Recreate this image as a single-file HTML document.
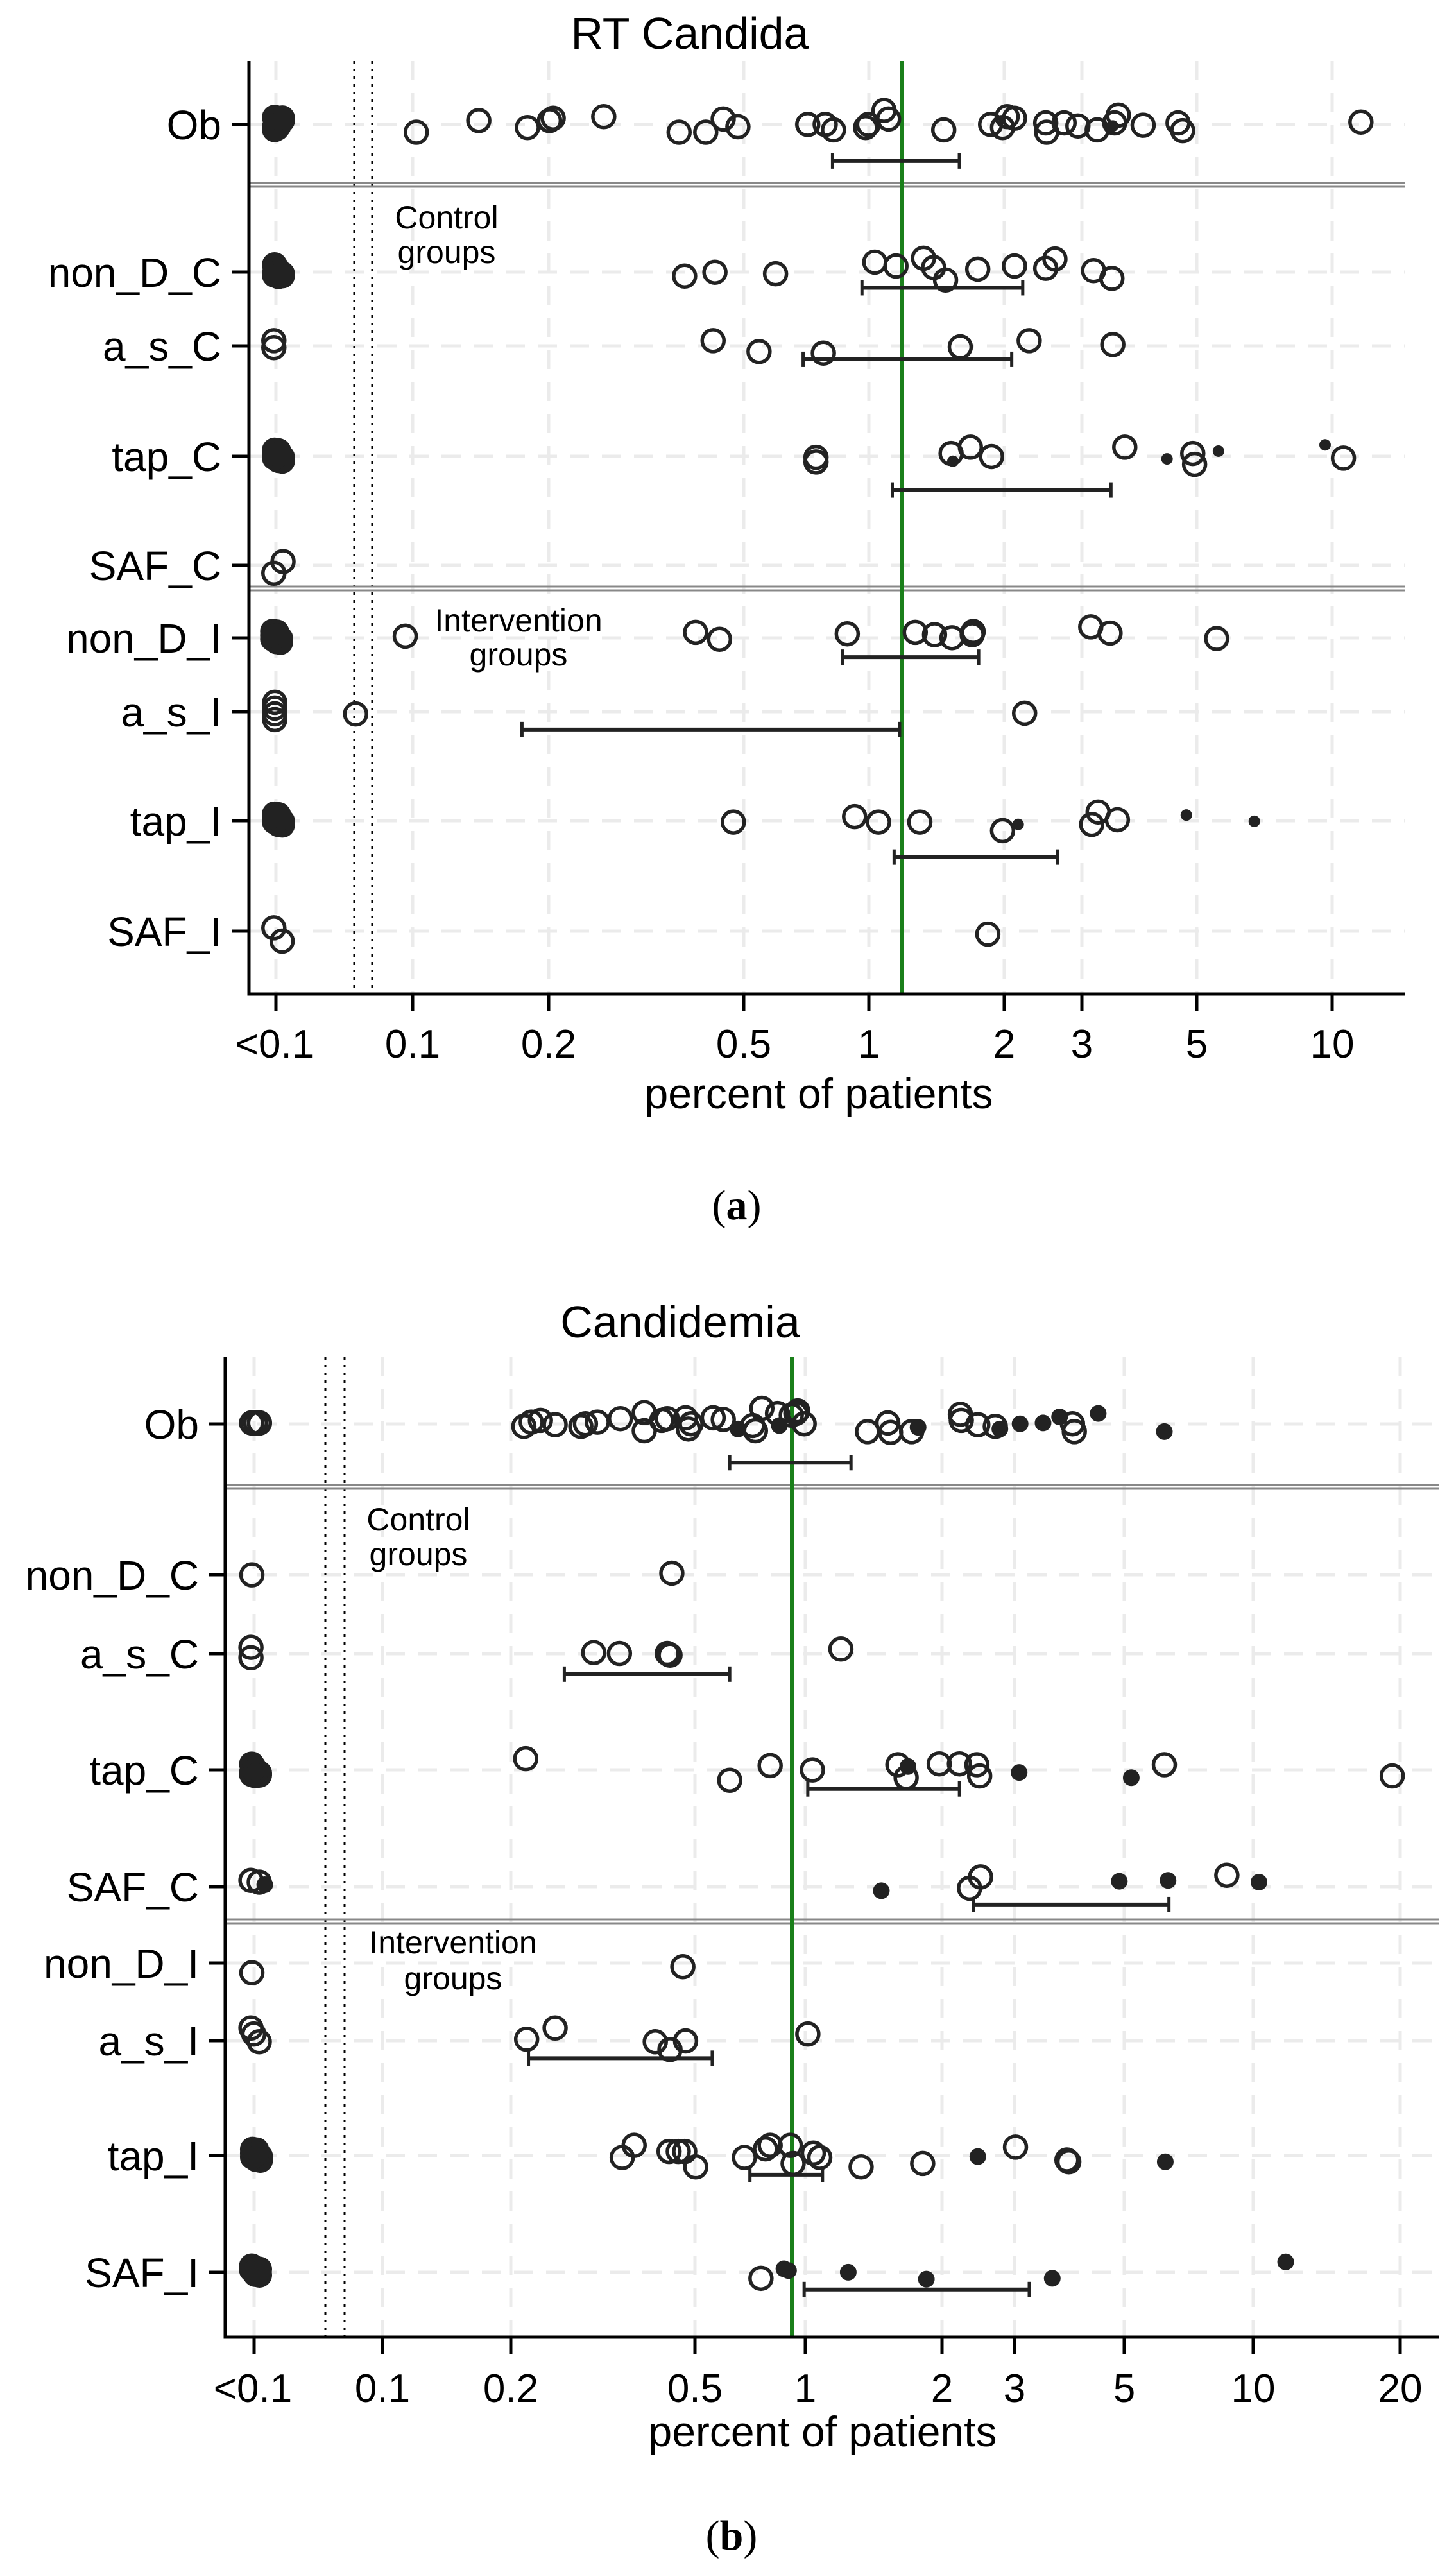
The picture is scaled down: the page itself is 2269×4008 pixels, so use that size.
<!DOCTYPE html>
<html><head><meta charset="utf-8">
<style>
html,body{margin:0;padding:0;background:#fff;}
svg{display:block;}
text{font-family:"Liberation Sans",Arial,sans-serif;fill:#000;}
</style></head>
<body>
<svg id="s" width="2269" height="4008" viewBox="0 0 2269 4008" xmlns="http://www.w3.org/2000/svg">
<rect width="2269" height="4008" fill="#fff"/>
<g id="grid"></g>
<g id="fig"></g>
<!-- Panel A text -->
<text x="1075" y="76" font-size="70" text-anchor="middle">RT Candida</text>
<g font-size="64" text-anchor="end">
<text x="345" y="217">Ob</text>
<text x="345" y="447">non_D_C</text>
<text x="345" y="562">a_s_C</text>
<text x="345" y="734">tap_C</text>
<text x="345" y="904">SAF_C</text>
<text x="345" y="1017">non_D_I</text>
<text x="345" y="1132">a_s_I</text>
<text x="345" y="1302">tap_I</text>
<text x="345" y="1474">SAF_I</text>
</g>
<g font-size="62" text-anchor="middle">
<text x="428" y="1648">&lt;0.1</text>
<text x="643" y="1648">0.1</text>
<text x="855" y="1648">0.2</text>
<text x="1159" y="1648">0.5</text>
<text x="1354" y="1648">1</text>
<text x="1565" y="1648">2</text>
<text x="1686" y="1648">3</text>
<text x="1865" y="1648">5</text>
<text x="2076" y="1648">10</text>
</g>
<text x="1276" y="1727" font-size="66" text-anchor="middle">percent of patients</text>
<g font-size="50" text-anchor="middle">
<text x="696" y="356">Control</text>
<text x="696" y="410">groups</text>
<text x="808" y="984">Intervention</text>
<text x="808" y="1037">groups</text>
</g>
<text x="1148" y="1900" font-size="66" text-anchor="middle" style="font-family:'Liberation Serif',serif">(<tspan font-weight="bold">a</tspan>)</text>

<!-- Panel B text -->
<text x="1060" y="2084" font-size="70" text-anchor="middle">Candidemia</text>
<g font-size="64" text-anchor="end">
<text x="310" y="2242">Ob</text>
<text x="310" y="2477">non_D_C</text>
<text x="310" y="2600">a_s_C</text>
<text x="310" y="2781">tap_C</text>
<text x="310" y="2963">SAF_C</text>
<text x="310" y="3082">non_D_I</text>
<text x="310" y="3203">a_s_I</text>
<text x="310" y="3382">tap_I</text>
<text x="310" y="3564">SAF_I</text>
</g>
<g font-size="62" text-anchor="middle">
<text x="394" y="3743">&lt;0.1</text>
<text x="596" y="3743">0.1</text>
<text x="796" y="3743">0.2</text>
<text x="1083" y="3743">0.5</text>
<text x="1255" y="3743">1</text>
<text x="1468" y="3743">2</text>
<text x="1581" y="3743">3</text>
<text x="1752" y="3743">5</text>
<text x="1953" y="3743">10</text>
<text x="2182" y="3743">20</text>
</g>
<text x="1282" y="3812" font-size="66" text-anchor="middle">percent of patients</text>
<g font-size="50" text-anchor="middle">
<text x="652" y="2385">Control</text>
<text x="652" y="2439">groups</text>
<text x="706" y="3044">Intervention</text>
<text x="706" y="3100">groups</text>
</g>
<text x="1140" y="3973" font-size="66" text-anchor="middle" style="font-family:'Liberation Serif',serif">(<tspan font-weight="bold">b</tspan>)</text>
</svg>
<script>
(function(){
var NS="http://www.w3.org/2000/svg";
var grid=document.getElementById('grid'), fig=document.getElementById('fig');
function el(p,n,a){var e=document.createElementNS(NS,n);for(var k in a)e.setAttribute(k,a[k]);p.appendChild(e);return e;}
function line(p,x1,y1,x2,y2,st,w,dash){var a={x1:x1,y1:y1,x2:x2,y2:y2,stroke:st,'stroke-width':w};if(dash)a['stroke-dasharray']=dash;el(p,'line',a);}
function panel(P){
  var L=P.left,R=P.right,T=P.top,B=P.bottom;
  P.ticks.forEach(function(t){line(grid,t,T,t,B,'#ebebeb',5,'30 20');});
  P.rows.forEach(function(r){line(grid,L,r,R,r,'#ebebeb',5,'30 20');});
  P.dots.forEach(function(d){line(fig,d,T,d,B,'#000',3,'4 8');});
  P.seps.forEach(function(s){line(fig,L,s-3,R,s-3,'#888',3);line(fig,L,s+3,R,s+3,'#888',3);});
  line(fig,P.green,T,P.green,B,'#1a7f1a',6);
  P.open.forEach(function(p){el(fig,'circle',{cx:P.fx(p[0]),cy:P.fy(p[1]),r:17,fill:'none',stroke:'#222','stroke-width':5.5});});
  P.fill.forEach(function(p){el(fig,'circle',{cx:P.fx(p[0]),cy:P.fy(p[1]),r:P.fr,fill:'#222'});});
  P.clusters.forEach(function(c){
    var cx=P.fx(c[0]),cy=P.fy(c[1]),n=c[2],h=c[3];
    if(h>0) el(fig,'rect',{x:cx-16,y:cy-h/2-14,width:32,height:h+28,rx:16,fill:'#222'});
    for(var i=0;i<n;i++){var dx=(i%3-1)*6, dy=((i*37)%(h+1))-h/2;
      el(fig,'circle',{cx:cx+dx,cy:cy+dy,r:17,fill:h>0?'#222':'none',stroke:'#222','stroke-width':5.5});}
  });
  P.bars.forEach(function(b){line(fig,b[0],b[2],b[1],b[2],'#222',6);
    line(fig,b[0],b[2]-12,b[0],b[2]+12,'#222',5);line(fig,b[1],b[2]-12,b[1],b[2]+12,'#222',5);});
  line(fig,L,T,L,B+2.5,'#000',5);
  line(fig,L-2.5,B,R,B,'#000',5);
  P.ticks.forEach(function(t){line(fig,t,B,t,B+26,'#000',5);});
  P.rows.forEach(function(r){line(fig,L-26,r,L,r,'#000',5);});
}
var ax=function(d){return 643+(d-448)*1.432;}, ay=function(d){return d*1.212;};
panel({left:388,right:2190,top:95,bottom:1549,fx:ax,fy:ay,fr:9,
 ticks:[430,643,855,1159,1354,1565,1686,1865,2076],
 rows:[194,424,539,711,881,994,1109,1279,1451],
 dots:[552,580],seps:[288,917],green:1405,
 open:[[452,170],[520,155],[573,164],[597,155],[601,152],[656,150],[738,170],[767,170],[786,153],[802,163],[878,160],[897,160],[906,167],[941,164],[944,160],[961,142],[966,153],[1026,167],[1077,160],[1090,164],[1095,150],[1103,152],[1137,158],[1138,170],[1157,158],[1172,162],[1193,167],[1212,158],[1216,148],[1243,161],[1281,158],[1286,168],[1480,157],
 [744,355],[777,350],[843,352],[951,337],[974,342],[1004,332],[1015,344],[1028,360],[1063,346],[1103,342],[1137,345],[1147,333],[1189,348],[1209,358],
 [775,438],[825,452],[895,454],[1044,446],[1119,438],[1210,443],[297,438],[297,447],
 [887,588],[887,594],[1034,583],[1055,575],[1078,587],[1223,575],[1297,583],[1299,597],[1461,589],
 [307,722],[297,737],
 [440,818],[756,813],[782,822],[921,815],[995,813],[1016,816],[1035,820],[1057,816],[1058,812],[1186,806],[1207,814],[1323,821],
 [386,918],[1114,917],
 [797,1057],[929,1050],[955,1057],[1000,1057],[1090,1068],[1187,1060],[1194,1044],[1215,1054],
 [297,1193],[306,1210],[1074,1201]],
 fill:[[1210,162],[1036,593],[1269,590],[1325,580],[1441,572],[1107,1060],[1290,1048],[1364,1056]],
 clusters:[[302,160,8,22],[302,348,8,18],[302,587,8,20],[300,820,8,20],[302,1055,8,20]],
 bars:[[ax(905),ax(1043),ay(207)],[ax(937),ax(1112),ay(370)],[ax(873),ax(1100),ay(462)],[ax(970),ax(1208),ay(630)],[ax(916),ax(1064),ay(845)],[ax(567),ax(978),ay(938)],[ax(972),ax(1150),ay(1102)]]
});
(function(){for(var i=0;i<4;i++)el(fig,'circle',{cx:ax(298),cy:ay(903)+i*9,r:17,fill:'none',stroke:'#222','stroke-width':5.5});})();
var bx=function(d){return 351+(d-245)*1.432;}, by=function(d){return 1900+d*1.345;};
panel({left:351,right:2243,top:2115,bottom:3642,fx:bx,fy:by,fr:13,
 ticks:[396,596,796,1083,1255,1468,1581,1752,1953,2182],
 rows:[2219,2454,2577,2758,2940,3059,3180,3359,3541],
 dots:[507,537],seps:[2317,2994],green:1234,
 open:[[570,240],[578,235],[588,233],[604,238],[632,240],[637,237],[650,235],[675,231],[701,224],[701,245],[720,233],[726,231],[746,230],[749,243],[752,237],[776,230],[787,232],[819,239],[822,245],[829,219],[846,225],[861,227],[868,222],[875,237],[866,225],[944,246],[966,236],[969,247],[992,246],[1045,226],[1046,233],[1064,238],[1083,240],[1167,237],[1169,246],
 [274,412],[731,410],
 [273,496],[273,508],[646,502],[674,503],[726,503],[729,505],[915,498],
 [572,625],[794,650],[838,633],[884,638],[977,632],[986,647],[1022,631],[1044,631],[1063,632],[1066,645],[1267,632],[1515,645],
 [273,766],[282,768],[1055,775],[1067,762],[1335,760],
 [274,873],[743,866],
 [273,937],[276,944],[282,953],[573,950],[604,937],[713,953],[746,952],[729,962],[879,944],
 [677,1087],[690,1073],[728,1080],[738,1080],[745,1080],[757,1098],[810,1087],[833,1077],[838,1073],[860,1073],[863,1094],[885,1082],[892,1087],[937,1098],[1004,1094],[1105,1075],[1161,1090],[1163,1092],
 [828,1227]],
 fill:[[803,243],[848,239],[999,241],[1088,243],[1110,237],[1135,236],[1153,229],[1195,225],[1267,246],
 [988,634],[1109,641],[1231,647],
 [288,771],[959,778],[1218,767],[1271,766],[1370,768],
 [1064,1086],[1268,1092],
 [853,1216],[858,1218],[923,1220],[1008,1228],[1145,1227],[1399,1208]],
 clusters:[[278,236,6,0],[278,638,8,18],[279,1085,8,20],[278,1218,6,14]],
 bars:[[bx(794),bx(926),by(282)],[bx(614),bx(794),by(527)],[bx(879),bx(1044),by(660)],[bx(1059),bx(1272),by(794)],[bx(575),bx(775),by(972)],[bx(816),bx(895),by(1107)],[bx(875),bx(1120),by(1240)]]
});
})();
</script>
</body></html>
